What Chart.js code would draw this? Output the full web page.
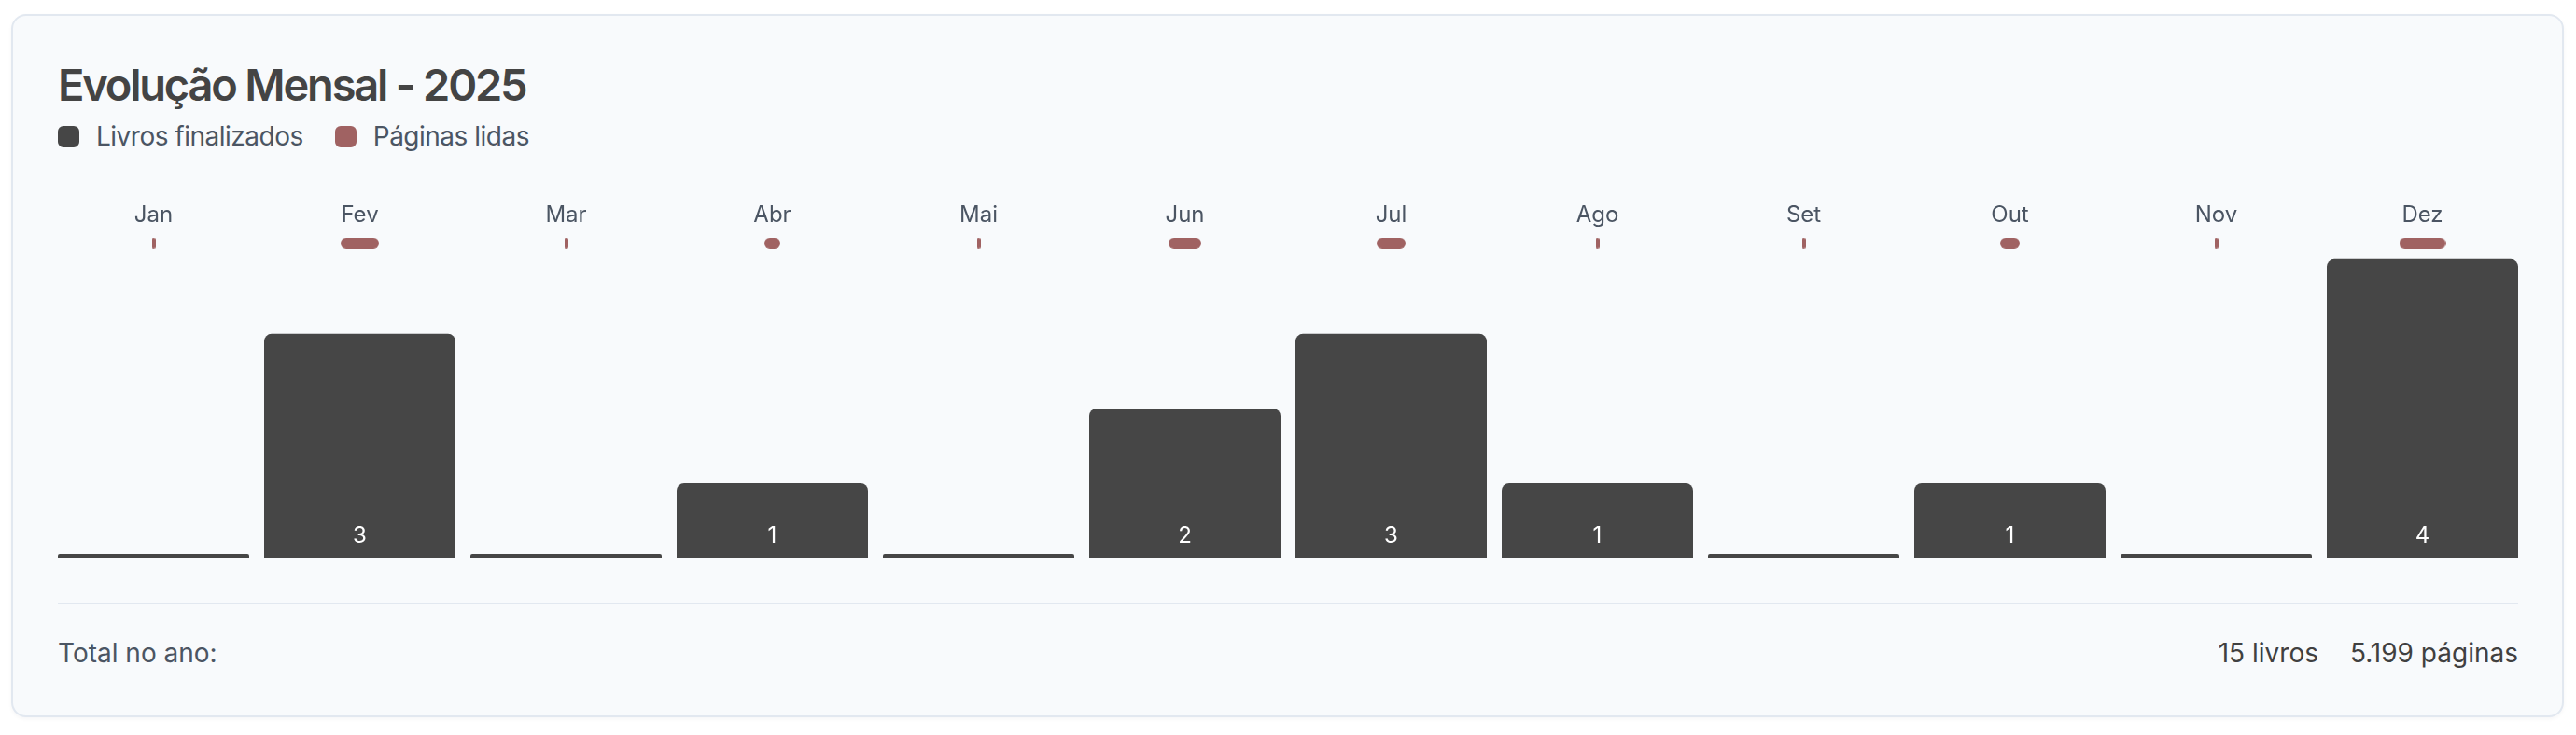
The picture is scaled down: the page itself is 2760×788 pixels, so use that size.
<!DOCTYPE html>
<html lang="pt-BR">
<head>
<meta charset="utf-8">
<title>Evolução Mensal - 2025</title>
<script src="https://cdn.jsdelivr.net/npm/chart.js@4.4.1/dist/chart.umd.min.js"></script>
<style>
  html, body { margin: 0; padding: 0; background: #fff; }
  body { width: 2760px; height: 788px; position: relative; overflow: hidden; font-family: Inter, "Noto Sans", sans-serif; }
  .card { position: absolute; left: 12px; top: 15px; width: 2731px; height: 750px; background: #f8fafc; border: 2px solid #e2e8f0; border-radius: 16px; box-shadow: 0 2px 4px rgba(15, 23, 42, 0.04); }
  .title { position: absolute; left: 62px; top: 67px; font-size: 47px; line-height: 48px; font-weight: 600; letter-spacing: -2.2px; color: #444; white-space: nowrap; }
  .legend { position: absolute; left: 62px; top: 132px; height: 28px; display: flex; align-items: center; font-size: 28px; line-height: 28px; letter-spacing: -0.5px; color: #4b5563; }
  .legend .item { display: flex; align-items: center; margin-right: 34px; }
  .legend .box { width: 23px; height: 23px; border-radius: 6px; margin-right: 18px; }
  .chart-wrap { position: absolute; left: 54px; top: 211px; width: 2652px; height: 399px; }
  .divider { position: absolute; left: 62px; top: 646px; width: 2636px; height: 2px; background: #e2e8f0; }
  .footer { position: absolute; left: 62px; top: 686px; width: 2636px; display: flex; justify-content: space-between; font-size: 28px; line-height: 28px; color: #4b5563; }
  .footer .totals span { color: #404040; margin-left: 34px; }
</style>
</head>
<body>
<div class="card"></div>
<div class="title">Evolução Mensal - 2025</div>
<div class="legend">
  <div class="item"><span class="box" style="background:#464646"></span>Livros finalizados</div>
  <div class="item"><span class="box" style="background:#a06262"></span>Páginas lidas</div>
</div>
<div class="chart-wrap"><canvas id="myChart"></canvas></div>
<div class="divider"></div>
<div class="footer">
  <div>Total no ano:</div>
  <div class="totals"><span id="totLivros"></span><span id="totPaginas"></span></div>
</div>
<script>
const meses = ['Jan', 'Fev', 'Mar', 'Abr', 'Mai', 'Jun', 'Jul', 'Ago', 'Set', 'Out', 'Nov', 'Dez'];
const livros = [0, 3, 0, 1, 0, 2, 3, 1, 0, 1, 0, 4];
const paginas = [0, 1093, 0, 453, 0, 933, 826, 0, 0, 560, 0, 1334];

const COR_LIVROS = '#464646';
const COR_PAGINAS = '#a06262';
const PILL_Y = 4.2125;

const maxPaginas = Math.max(...paginas);
const pillCache = {};

// little rounded pill, width follows pages read
function pillImage(value) {
  if (pillCache[value]) return pillCache[value];
  const w = Math.max(4, value / maxPaginas * 50);
  const h = 12;
  const c = document.createElement('canvas');
  c.width = Math.round(w);
  c.height = h;
  const g = c.getContext('2d');
  g.fillStyle = COR_PAGINAS;
  g.beginPath();
  g.roundRect(0, 0, c.width, h, Math.min(6, c.width / 2));
  g.fill();
  pillCache[value] = c;
  return c;
}

const barLabels = {
  id: 'barLabels',
  afterDatasetsDraw(chart) {
    const meta = chart.getDatasetMeta(0);
    const ctx = chart.ctx;
    ctx.save();
    ctx.font = '24px Inter, "Noto Sans", sans-serif';
    ctx.fillStyle = '#ffffff';
    ctx.textAlign = 'center';
    ctx.textBaseline = 'middle';
    meta.data.forEach((bar, i) => {
      if (!livros[i]) return;
      ctx.fillText(String(livros[i]), bar.x, bar.base - 23);
    });
    ctx.restore();
  }
};

const totalLivros = livros.reduce((a, b) => a + b, 0);
const totalPaginas = paginas.reduce((a, b) => a + b, 0);
document.getElementById('totLivros').textContent = totalLivros + ' livros';
document.getElementById('totPaginas').textContent = String(totalPaginas).replace(/\B(?=(\d{3})+(?!\d))/g, '.') + ' páginas';

const ctx = document.getElementById('myChart').getContext('2d');
const chart = new Chart(ctx, {
  type: 'bar',
  data: {
    labels: meses,
    datasets: [
      {
        type: 'bar',
        label: 'Livros finalizados',
        data: livros,
        backgroundColor: COR_LIVROS,
        borderRadius: 8,
        minBarLength: 4,
        categoryPercentage: 1,
        barPercentage: 205 / 221,
        order: 2
      },
      {
        type: 'line',
        label: 'Páginas lidas',
        data: paginas.map(() => PILL_Y),
        showLine: false,
        pointRadius: 6,
        pointHoverRadius: 6,
        pointStyle: (c) => pillImage(paginas[c.dataIndex]),
        order: 1
      }
    ]
  },
  options: {
    responsive: true,
    maintainAspectRatio: false,
    animation: false,
    events: [],
    layout: { autoPadding: false, padding: { top: 0, bottom: 12, left: 0, right: 0 } },
    plugins: {
      legend: { display: false },
      tooltip: { enabled: false }
    },
    scales: {
      x: {
        position: 'top',
        grid: { display: false, drawTicks: false },
        border: { display: false },
        ticks: {
          color: '#4b5563',
          padding: 5,
          font: { family: 'Inter, "Noto Sans", sans-serif', size: 24 }
        }
      },
      y: {
        display: false,
        min: 0,
        max: 4.35
      }
    }
  },
  plugins: [barLabels]
});
</script>
</body>
</html>
